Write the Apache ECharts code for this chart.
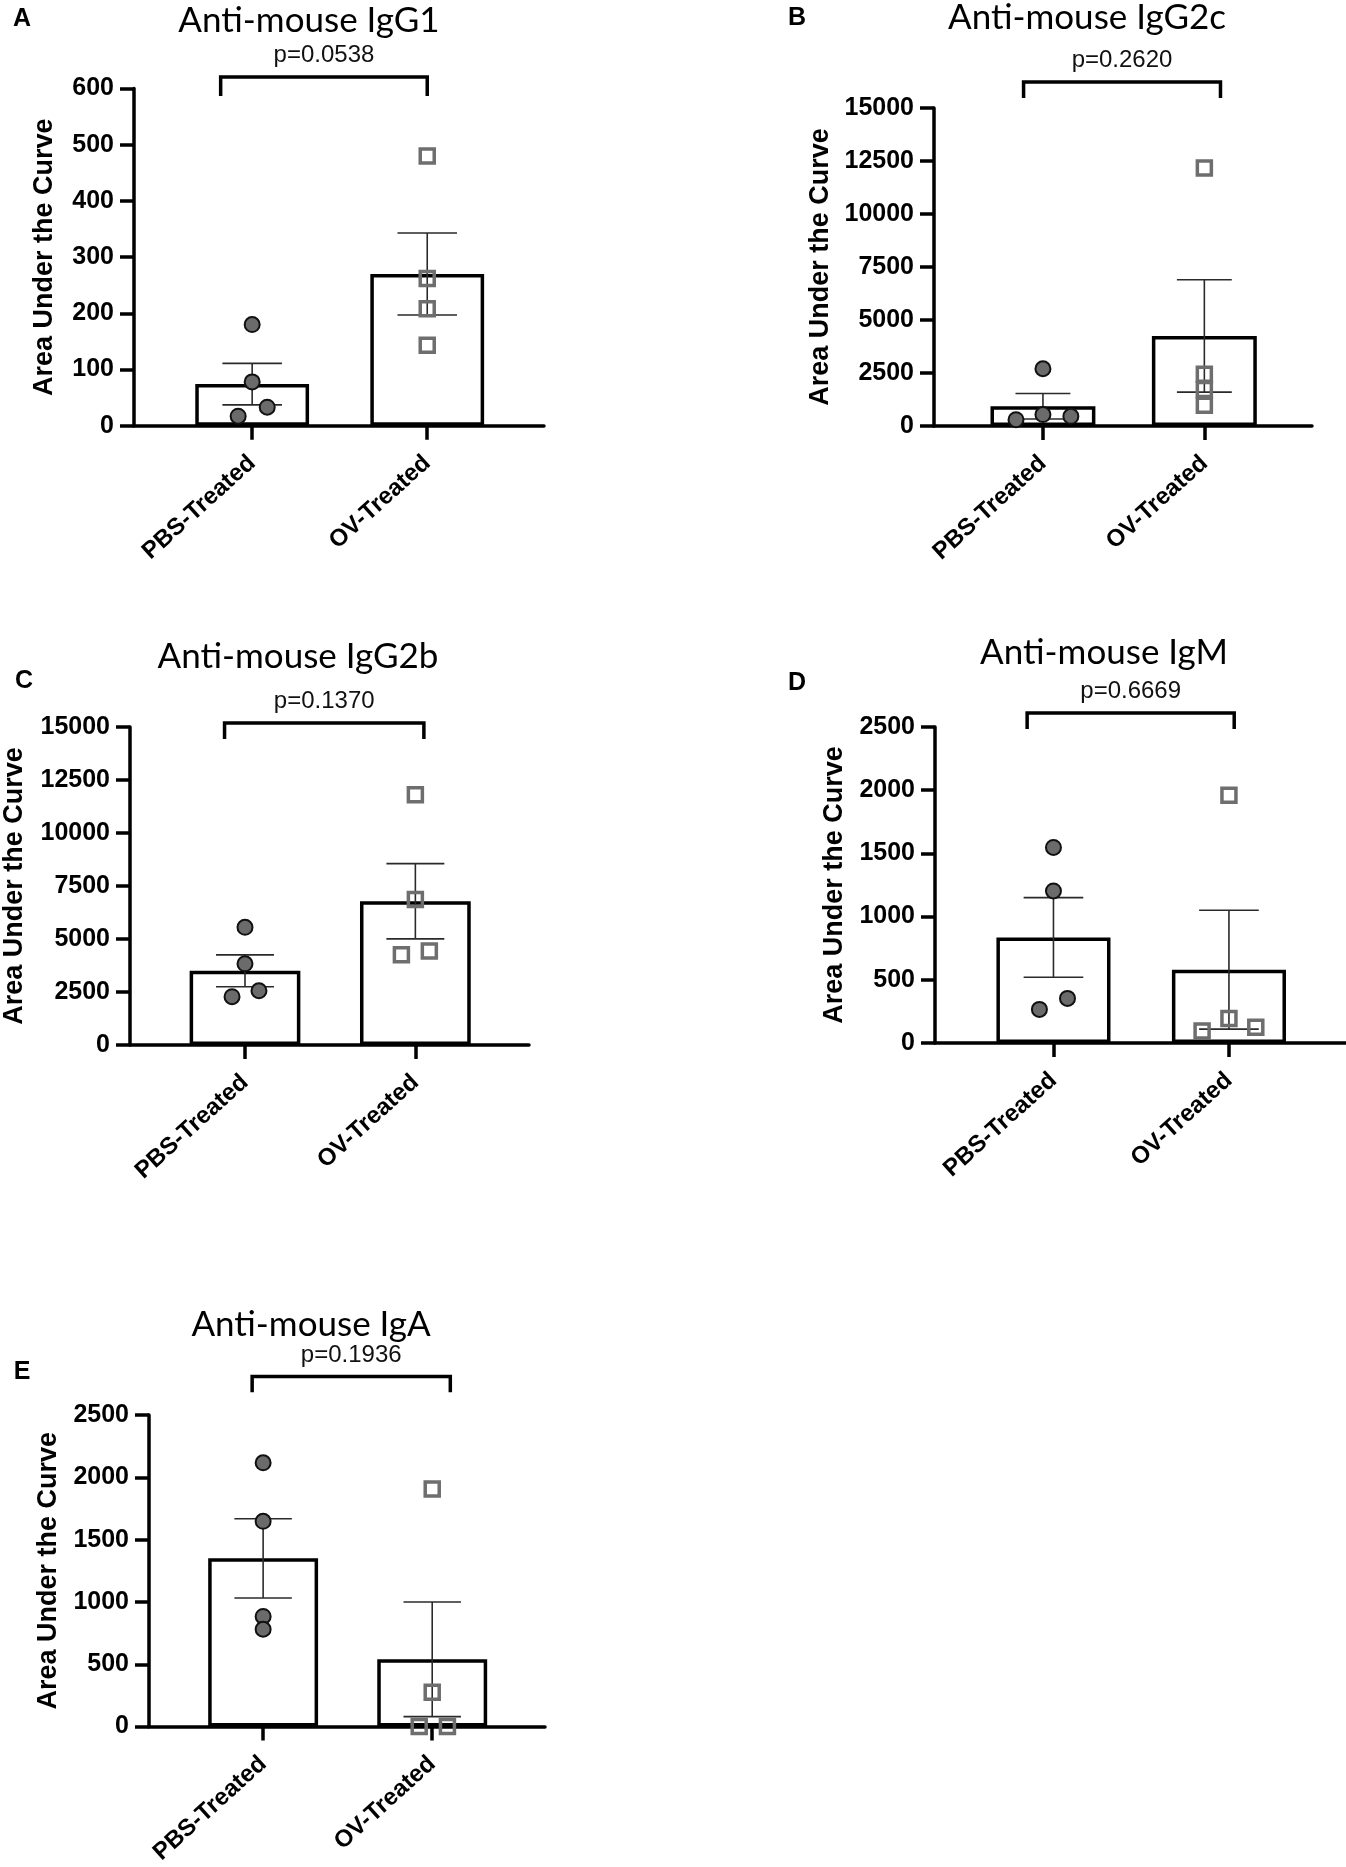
<!DOCTYPE html>
<html>
<head>
<meta charset="utf-8">
<script src="https://cdn.jsdelivr.net/npm/echarts@6/dist/echarts.min.js"></script>
<style>
html, body { margin: 0; padding: 0; background: #fff; }
#chart { width: 1346px; height: 1867px; }
</style>
</head>
<body>
<div id="chart"></div>
<script>
// data
const groups = ['PBS-Treated', 'OV-Treated'];
const panelTitles = ['Anti-mouse IgG1', 'Anti-mouse IgG2c', 'Anti-mouse IgG2b', 'Anti-mouse IgM', 'Anti-mouse IgA'];
const panelLetters = ['A', 'B', 'C', 'D', 'E'];
const pValues = ['p=0.0538', 'p=0.2620', 'p=0.1370', 'p=0.6669', 'p=0.1936'];
const yMax = [600, 15000, 15000, 2500, 2500];
const yStep = [100, 2500, 2500, 500, 500];

const means = [[74, 270], [930, 4250], [3500, 6780], [835, 580], [1350, 540]];
const sems = [[37, 73], [600, 2650], [750, 1775], [315, 470], [318, 460]];

const pbsPoints = [
    [180, 78, 33, 17],
    [2700, 540, 455, 300],
    [5550, 3830, 2560, 2280],
    [1547, 1203, 353, 266],
    [2116, 1647, 884, 781]
];
const ovPoints = [
    [480, 262, 208, 143],
    [12170, 2440, 1720, 980],
    [11800, 6860, 4430, 4260],
    [1960, 194, 125, 94],
    [1906, 275, 0, 0]
];
// sideways spread of the dots around each group (x axis units)
const pbsJitter = [[0, 0, 0.086, -0.08], [0, 0, 0.173, -0.167], [0, 0, 0.082, -0.076], [0, 0, 0.08, -0.08], [0, 0, 0, 0]];
const ovJitter = [[0, 0, 0, 0], [0, 0, 0, 0], [0, 0, 0.082, -0.082], [0, 0, 0.153, -0.153], [0, 0, 0.09, -0.077]];
// significance bracket: left x, right x, top value, leg end value
const brackets = [
    [-0.18, 1.0, 620.7, 586.9],
    [-0.12, 1.10, 16226, 15472],
    [-0.12, 1.05, 15189, 14434],
    [-0.15, 1.03, 2611, 2484],
    [-0.065, 1.107, 2809, 2682]
];

// panel placement on the page
const layout = [
    { left: 134, top: 88.6, width: 410, height: 337.1, nameGap: 76, title: [309, 20.5], letter: [22, 19.5] },
    { left: 934, top: 108, width: 378, height: 318, nameGap: 100, title: [1087, 18], letter: [797, 18.5] },
    { left: 129, top: 727, width: 400, height: 318, nameGap: 102, title: [298, 657], letter: [24, 681.5] },
    { left: 935, top: 727, width: 411, height: 316, nameGap: 87, title: [1104, 653], letter: [797, 683] },
    { left: 149, top: 1415, width: 396, height: 316, nameGap: 87, title: [311, 1325], letter: [22, 1372] }
];

const boldFont = '"Liberation Sans", Arial, Helvetica, sans-serif';
const axisStyle = { color: '#000', width: 3.5 };

const chart = echarts.init(document.getElementById('chart'));

const grids = [], xAxes = [], yAxes = [], series = [], graphics = [];

layout.forEach((p, i) => {
    grids.push({ left: p.left, top: p.top, width: p.width, height: p.height });

    xAxes.push({
        type: 'value', gridIndex: i, min: -0.675, max: 1.667,
        splitLine: { show: false },
        axisLine: { show: true, onZero: false, lineStyle: axisStyle },
        axisTick: { show: true, customValues: [0, 1], length: 14, lineStyle: axisStyle },
        axisLabel: {
            customValues: [0, 1], rotate: 42, margin: 34,
            formatter: v => groups[Math.round(v)],
            fontFamily: boldFont, fontWeight: 'bold', fontSize: 24, color: '#000'
        }
    });

    yAxes.push({
        type: 'value', gridIndex: i, min: 0, max: yMax[i], interval: yStep[i],
        splitLine: { show: false },
        axisLine: { show: true, onZero: false, lineStyle: axisStyle },
        axisTick: { show: true, length: 14, lineStyle: axisStyle },
        axisLabel: {
            margin: 20, formatter: v => String(v),
            fontFamily: boldFont, fontWeight: 'bold', fontSize: 25, color: '#000'
        },
        name: 'Area Under the Curve', nameLocation: 'middle', nameGap: p.nameGap, nameRotate: 90,
        nameTextStyle: { fontFamily: boldFont, fontWeight: 'bold', fontSize: 27, color: '#000' }
    });

    // bars = group means
    series.push({
        type: 'bar', xAxisIndex: i, yAxisIndex: i, barWidth: '65%', z: 2,
        data: [[0, means[i][0]], [1, means[i][1]]],
        itemStyle: { color: '#fff', borderColor: '#000', borderWidth: 3.5 }
    });

    // mean ± SEM
    series.push({
        type: 'custom', xAxisIndex: i, yAxisIndex: i, z: 3,
        data: [[0, means[i][0], sems[i][0]], [1, means[i][1], sems[i][1]]],
        renderItem: (params, api) => {
            const x = api.value(0), m = api.value(1), s = api.value(2);
            const hi = api.coord([x, m + s]), lo = api.coord([x, m - s]);
            const half = api.size([0.17, 0])[0];
            const style = { stroke: '#2a2a2a', lineWidth: 1.6 };
            return {
                type: 'group', children: [
                    { type: 'line', shape: { x1: hi[0], y1: hi[1], x2: lo[0], y2: lo[1] }, style },
                    { type: 'line', shape: { x1: hi[0] - half, y1: hi[1], x2: hi[0] + half, y2: hi[1] }, style },
                    { type: 'line', shape: { x1: lo[0] - half, y1: lo[1], x2: lo[0] + half, y2: lo[1] }, style }
                ]
            };
        }
    });

    // significance bracket with p value
    series.push({
        type: 'custom', xAxisIndex: i, yAxisIndex: i, z: 4, clip: false,
        data: [brackets[i]],
        renderItem: (params, api) => {
            const a = api.coord([api.value(0), api.value(3)]);
            const b = api.coord([api.value(0), api.value(2)]);
            const c = api.coord([api.value(1), api.value(2)]);
            const d = api.coord([api.value(1), api.value(3)]);
            return {
                type: 'group', children: [
                    { type: 'polyline', shape: { points: [a, b, c, d] }, style: { stroke: '#000', lineWidth: 3.5, fill: null } },
                    {
                        type: 'text',
                        style: {
                            text: pValues[i], x: (b[0] + c[0]) / 2, y: b[1] - 21.5,
                            textAlign: 'center', textVerticalAlign: 'middle', align: 'center', verticalAlign: 'middle',
                            font: '24px ' + boldFont, fill: '#111'
                        }
                    }
                ]
            };
        }
    });

    // individual animals
    series.push({
        type: 'scatter', xAxisIndex: i, yAxisIndex: i, z: 5,
        symbol: 'circle', symbolSize: 15,
        data: pbsPoints[i].map((v, k) => [pbsJitter[i][k], v]),
        itemStyle: { color: '#6b6b6b', borderColor: '#111', borderWidth: 2, opacity: 1 }
    });
    series.push({
        type: 'scatter', xAxisIndex: i, yAxisIndex: i, z: 5,
        symbol: 'rect', symbolSize: 14,
        data: ovPoints[i].map((v, k) => [1 + ovJitter[i][k], v]),
        itemStyle: { color: 'rgba(255,255,255,0)', borderColor: '#6e6e6e', borderWidth: 3.5, opacity: 1 }
    });

    graphics.push({
        type: 'text', x: p.title[0], y: p.title[1],
        style: {
            text: panelTitles[i], textAlign: 'center', textVerticalAlign: 'middle', align: 'center', verticalAlign: 'middle',
            font: '35px Lato, "Open Sans", sans-serif', fill: '#000'
        }
    });
    graphics.push({
        type: 'text', x: p.letter[0], y: p.letter[1],
        style: {
            text: panelLetters[i], textAlign: 'center', textVerticalAlign: 'middle', align: 'center', verticalAlign: 'middle',
            font: 'bold 25px ' + boldFont, fill: '#000'
        }
    });
});

chart.setOption({
    animation: false,
    backgroundColor: '#fff',
    grid: grids,
    xAxis: xAxes,
    yAxis: yAxes,
    series: series,
    graphic: graphics
});
</script>
</body>
</html>
